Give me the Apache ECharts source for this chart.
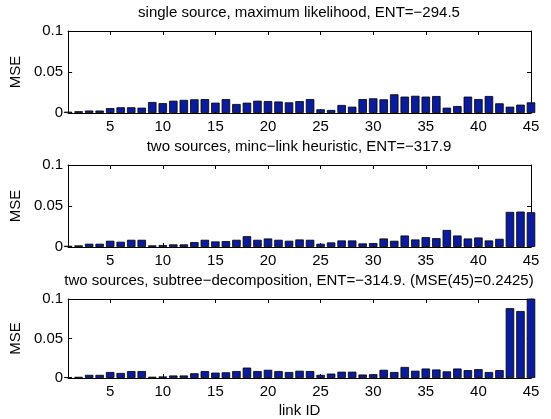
<!DOCTYPE html>
<html>
<head>
<meta charset="utf-8">
<script src="https://cdn.jsdelivr.net/npm/echarts@6/dist/echarts.min.js"></script>
<style>
html,body{margin:0;padding:0;background:#fff;}
#main{width:551px;height:419px;}
</style>
</head>
<body>
<div id="main"></div>
<script>
var linkIds=[1,2,3,4,5,6,7,8,9,10,11,12,13,14,15,16,17,18,19,20,21,22,23,24,25,26,27,28,29,30,31,32,33,34,35,36,37,38,39,40,41,42,43,44,45];
var xTicks=[5,10,15,20,25,30,35,40,45];
var titles=[
	"single source, maximum likelihood, ENT=\u2212294.5",
	"two sources, minc\u2212link heuristic, ENT=\u2212317.9",
	"two sources, subtree\u2212decomposition, ENT=\u2212314.9. (MSE(45)=0.2425)"
];
// mse per link
var mseSingle=[0.0016,0.0022,0.003,0.003,0.006,0.007,0.007,0.0065,0.0134,0.012,
	0.015,0.016,0.0167,0.017,0.0126,0.017,0.011,0.0126,0.015,0.0146,
	0.014,0.013,0.0145,0.017,0.0045,0.0037,0.0098,0.0077,0.017,0.0179,
	0.0167,0.0228,0.02,0.021,0.02,0.0207,0.0065,0.0085,0.02,0.017,
	0.0207,0.0118,0.0077,0.0102,0.013];
var mseMinc=[0.0015,0.002,0.004,0.004,0.0076,0.0064,0.0088,0.0088,0.002,0.0024,
	0.0032,0.0032,0.006,0.0088,0.0068,0.0072,0.0088,0.0132,0.0088,0.0104,
	0.0088,0.0076,0.0092,0.0088,0.004,0.0056,0.008,0.008,0.0044,0.0048,
	0.0104,0.0076,0.014,0.0092,0.012,0.0108,0.0208,0.014,0.0104,0.0116,
	0.008,0.01,0.0428,0.0432,0.0424];
var mseSubtree=[0.0012,0.0015,0.004,0.004,0.0076,0.0064,0.0088,0.0088,0.0016,0.002,
	0.0032,0.0032,0.006,0.0088,0.0068,0.0072,0.0088,0.0132,0.0088,0.0104,
	0.0088,0.0076,0.0092,0.0088,0.004,0.0056,0.008,0.008,0.0044,0.0048,
	0.0104,0.0076,0.014,0.0092,0.012,0.0108,0.0084,0.012,0.01,0.0112,
	0.0076,0.01,0.0884,0.0848,0.2425];

var FONT="Liberation Sans";
var panels=[mseSingle,mseMinc,mseSubtree];
var tops=[31,165,299];
var option={
	animation:false,
	backgroundColor:"#fff",
	textStyle:{fontFamily:FONT},
	title:[],grid:[],xAxis:[],yAxis:[],series:[]
};
for(var i=0;i<panels.length;i++){
	option.title.push({
		text:titles[i],left:299,top:tops[i]-26,textAlign:"center",padding:0,
		textStyle:{fontFamily:FONT,fontSize:15,fontWeight:"normal",color:"#000"}
	});
	option.grid.push({left:67,top:tops[i],width:464,height:82,show:false});
	var last=i==panels.length-1;
	option.xAxis.push({
		type:"value",gridIndex:i,min:1,max:45,position:"bottom",
		name:last?"link ID":"",nameLocation:"middle",nameGap:25,
		nameTextStyle:{fontFamily:FONT,fontSize:15,color:"#000"},
		axisLine:{onZero:false,lineStyle:{color:"#000",width:1}},
		axisTick:{inside:true,length:4,customValues:xTicks,lineStyle:{color:"#000"}},
		axisLabel:{customValues:xTicks,margin:6,fontFamily:FONT,fontSize:15,color:"#000"},
		splitLine:{show:false}
	});
	option.xAxis.push({
		type:"value",gridIndex:i,min:1,max:45,position:"top",
		axisLine:{onZero:false,lineStyle:{color:"#000",width:1}},
		axisTick:{inside:true,length:4,customValues:xTicks,lineStyle:{color:"#000"}},
		axisLabel:{show:false},splitLine:{show:false}
	});
	option.yAxis.push({
		type:"value",gridIndex:i,min:0,max:0.1,interval:0.05,position:"left",
		name:"MSE",nameLocation:"middle",nameGap:41,
		nameTextStyle:{fontFamily:FONT,fontSize:15,color:"#000"},
		axisLine:{show:true,onZero:false,lineStyle:{color:"#000",width:1}},
		axisTick:{show:true,inside:true,length:4,lineStyle:{color:"#000"}},
		axisLabel:{margin:5,fontFamily:FONT,fontSize:15,color:"#000",
			formatter:function(v){return String(+v.toFixed(2));}},
		splitLine:{show:false}
	});
	option.yAxis.push({
		type:"value",gridIndex:i,min:0,max:0.1,interval:0.05,position:"right",
		axisLine:{show:true,onZero:false,lineStyle:{color:"#000",width:1}},
		axisTick:{show:true,inside:true,length:4,lineStyle:{color:"#000"}},
		axisLabel:{show:false},splitLine:{show:false}
	});
	var d=[];
	for(var k=0;k<linkIds.length;k++){
		d.push([linkIds[k],panels[i][k]]);
	}
	option.series.push({
		type:"bar",xAxisIndex:i*2,yAxisIndex:i*2,data:d,
		barWidth:8.5,clip:true,
		itemStyle:{color:"#0a1c9c",borderColor:"#000",borderWidth:0.8}
	});
}
echarts.init(document.getElementById("main"),null,{renderer:"canvas"}).setOption(option);
</script>
</body>
</html>
